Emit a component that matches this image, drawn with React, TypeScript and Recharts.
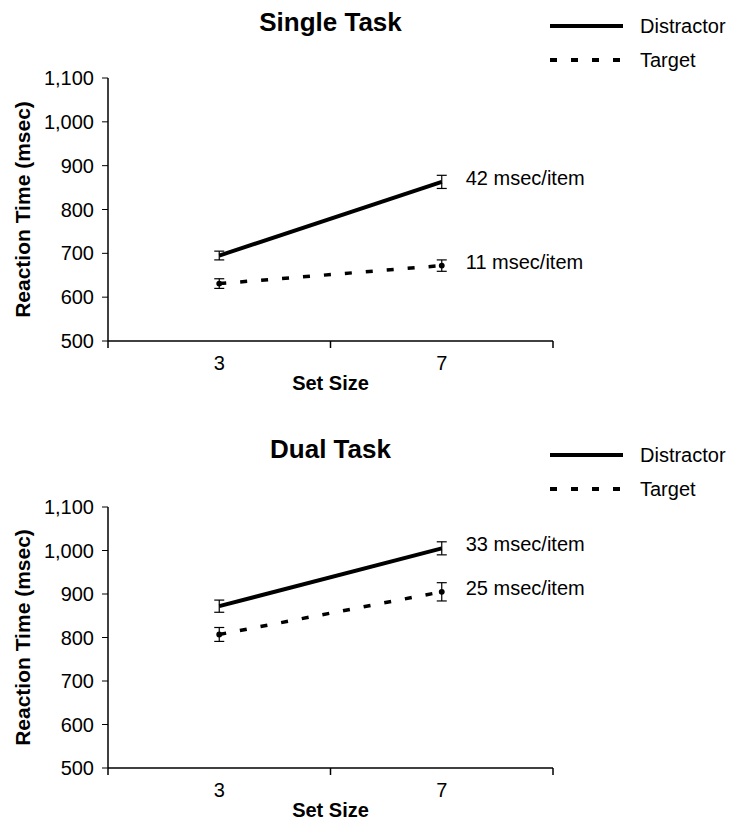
import React from "react"
import { LineChart, Line, XAxis, YAxis, ErrorBar, Legend, LabelList } from "recharts"

// x categories and y ticks shared by both panels
const setSizes = ["3", "7"]
const yTicks = [500, 600, 700, 800, 900, 1000, 1100]

// Single task
const singleDistractor = [695, 863]
const singleDistractorErr = [10, 15]
const singleTarget = [631, 672]
const singleTargetErr = [11, 13]
const singleSlopes = ["42 msec/item", "11 msec/item"]

// Dual task
const dualDistractor = [872, 1005]
const dualDistractorErr = [14, 15]
const dualTarget = [807, 905]
const dualTargetErr = [16, 21]
const dualSlopes = ["33 msec/item", "25 msec/item"]

const FONT = '"Liberation Sans", Arial, sans-serif'
const X_TICK_SIZE = 6
const X_TICK_MARGIN = 9

type Row = {
  size: string
  distractor: number
  distractorErr: number
  target: number
  targetErr: number
  distNote: string
  targNote: string
}

function buildRows(dist: number[], distErr: number[], targ: number[], targErr: number[], slopes: string[]): Row[] {
  return setSizes.map((size, i) => ({
    size,
    distractor: dist[i],
    distractorErr: distErr[i],
    target: targ[i],
    targetErr: targErr[i],
    distNote: i === setSizes.length - 1 ? slopes[0] : "",
    targNote: i === setSizes.length - 1 ? slopes[1] : "",
  }))
}

// category label in the band centre, tick marks on the band edges (Excel style)
function SizeTick(props: any) {
  const { x, y, payload, index, width, visibleTicksCount } = props
  const band = width / visibleTicksCount
  const axisY = y - X_TICK_SIZE - X_TICK_MARGIN
  const left = x - band / 2
  const right = x + band / 2
  return (
    <g>
      <line x1={left} y1={axisY} x2={left} y2={axisY + 7} stroke="#000" strokeWidth={1.5} />
      {index === visibleTicksCount - 1 && (
        <line x1={right} y1={axisY} x2={right} y2={axisY + 7} stroke="#000" strokeWidth={1.5} />
      )}
      <text x={x} y={y} dy="0.71em" textAnchor="middle" fontSize={20} fill="#000">
        {payload.value}
      </text>
    </g>
  )
}

function SlopeNote(props: any) {
  const { x, y, value } = props
  if (!value) return null
  return (
    <text x={x + 24} y={y - 4} dominantBaseline="central" fontSize={20} fill="#000">
      {value}
    </text>
  )
}

function LegendBox({ payload }: any) {
  return (
    <div style={{ fontFamily: FONT }}>
      {(payload ?? []).map((p: any) => (
        <div key={p.value} style={{ display: "flex", alignItems: "center", height: 34, whiteSpace: "nowrap" }}>
          <svg width={73} height={10} style={{ display: "block" }}>
            <line
              x1={0}
              y1={5}
              x2={73}
              y2={5}
              stroke="#000"
              strokeWidth={4}
              strokeDasharray={p.payload?.strokeDasharray}
            />
          </svg>
          <span style={{ marginLeft: 17, fontSize: 20, color: "#000" }}>{p.value}</span>
        </div>
      ))}
    </div>
  )
}

function Panel({ title, rows, top, plotTop, legendTop }: { title: string; rows: Row[]; top: number; plotTop: number; legendTop: number }) {
  return (
    <div style={{ position: "absolute", left: 0, top, width: 732, height: 395 }}>
      <div
        style={{
          position: "absolute",
          left: 108,
          top: 9,
          width: 445,
          textAlign: "center",
          fontSize: 26,
          lineHeight: "26px",
          fontWeight: "bold",
        }}
      >
        {title}
      </div>
      <LineChart width={732} height={395} data={rows} margin={{ top: plotTop, right: 179, bottom: 0, left: 0 }}>
        <XAxis
          dataKey="size"
          scale="band"
          axisLine={{ stroke: "#000", strokeWidth: 1.5 }}
          tickLine={false}
          height={54}
          tickSize={X_TICK_SIZE}
          tickMargin={X_TICK_MARGIN}
          interval={0}
          tick={<SizeTick />}
          label={{
            content: ({ viewBox }: any) => (
              <text
                x={viewBox.x + viewBox.width / 2}
                y={viewBox.y + 49}
                textAnchor="middle"
                fontSize={20}
                fontWeight="bold"
                fill="#000"
              >
                Set Size
              </text>
            ),
          }}
        />
        <YAxis
          domain={[500, 1100]}
          ticks={yTicks}
          width={108}
          stroke="#000"
          axisLine={{ stroke: "#000", strokeWidth: 1.5 }}
          tickSize={6}
          tickMargin={8}
          tick={{ fontSize: 20, fill: "#000" }}
          tickFormatter={(v) => Number(v).toLocaleString("en-US")}
          label={{
            content: ({ viewBox }: any) => {
              const cx = viewBox.x + 22
              const cy = viewBox.y + viewBox.height / 2
              return (
                <text
                  x={cx}
                  y={cy}
                  transform={`rotate(-90, ${cx}, ${cy})`}
                  textAnchor="middle"
                  dominantBaseline="central"
                  fontSize={21}
                  fontWeight="bold"
                  fill="#000"
                >
                  Reaction Time (msec)
                </text>
              )
            },
          }}
        />
        <Legend
          layout="vertical"
          align="center"
          verticalAlign="middle"
          wrapperStyle={{ top: legendTop, left: 550, width: 182 }}
          content={<LegendBox />}
        />
        <Line
          name="Distractor"
          dataKey="distractor"
          stroke="#000"
          strokeWidth={4}
          dot={false}
          isAnimationActive={false}
        >
          <ErrorBar dataKey="distractorErr" width={5} stroke="#000" strokeWidth={1.2} direction="y" />
          <LabelList dataKey="distNote" content={<SlopeNote />} />
        </Line>
        <Line
          name="Target"
          dataKey="target"
          stroke="#000"
          strokeWidth={3.5}
          strokeDasharray="7 14"
          dot={{ r: 1.2, fill: "#000", stroke: "#000" }}
          isAnimationActive={false}
        >
          <ErrorBar dataKey="targetErr" width={5} stroke="#000" strokeWidth={1.2} direction="y" />
          <LabelList dataKey="targNote" content={<SlopeNote />} />
        </Line>
      </LineChart>
    </div>
  )
}

const singleRows = buildRows(singleDistractor, singleDistractorErr, singleTarget, singleTargetErr, singleSlopes)
const dualRows = buildRows(dualDistractor, dualDistractorErr, dualTarget, dualTargetErr, dualSlopes)

export default function App() {
  return (
    <div
      style={{
        position: "absolute",
        left: 0,
        top: 0,
        width: 732,
        height: 822,
        background: "#fff",
        fontFamily: FONT,
        color: "#000",
        overflow: "hidden",
      }}
    >
      <Panel title="Single Task" rows={singleRows} top={0} plotTop={78} legendTop={9} />
      <Panel title="Dual Task" rows={dualRows} top={427} plotTop={80} legendTop={11} />
    </div>
  )
}
